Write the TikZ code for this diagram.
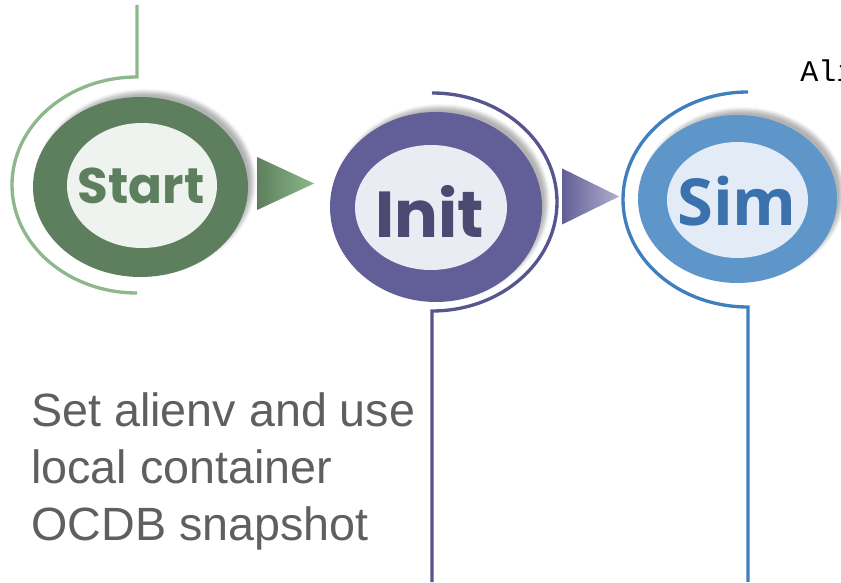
\documentclass[tikz,border=0pt]{standalone}
\usepackage{fontspec}
\setmainfont{Liberation Sans}
\newfontfamily\popfont{Poppins}
\newfontfamily\openfont{Open Sans}
\newfontfamily\codefont{Liberation Mono}
\usetikzlibrary{positioning, shapes.geometric, shadows.blur}

\definecolor{startring}{HTML}{5E7F5D}
\definecolor{startcore}{HTML}{EEF3EF}
\definecolor{starttrack}{HTML}{8DB88C}
\definecolor{initring}{HTML}{625F98}
\definecolor{initcore}{HTML}{EBEBF3}
\definecolor{inittext}{HTML}{4B4A72}
\definecolor{inittrack}{HTML}{57558D}
\definecolor{simring}{HTML}{5E96CA}
\definecolor{simcore}{HTML}{E3ECF6}
\definecolor{simtext}{HTML}{3B72AD}
\definecolor{simtrack}{HTML}{3F7FBF}
\definecolor{notegray}{HTML}{5F5F5F}

\newcommand{\pxu}{0.6pt}

\begin{document}
\begin{tikzpicture}[x=0.6pt, y=0.6pt,
    ring/.style={ellipse, inner sep=0pt,
        blur shadow={shadow xshift=3pt, shadow yshift=3pt, shadow blur steps=6, shadow opacity=30}},
    core/.style={ellipse, inner sep=0pt},
    pointer/.style={isosceles triangle, isosceles triangle stretches, inner sep=0pt,
        minimum height=57*\pxu, anchor=apex},
    track/.style={line width=2pt}
]
    \useasboundingbox (0,0) rectangle (841,582);
    \clip (0,0) rectangle (841,582);

    % Start
    \draw[track, starttrack] (137,577) -- (137,505)
        arc[start angle=90, end angle=270, x radius=125, y radius=108];
    \node[ring, fill=startring, minimum width=215*\pxu, minimum height=180*\pxu] (startring) at (140.5,395) {};
    \node[core, fill=startcore, minimum width=150*\pxu, minimum height=125*\pxu] (startcore) at (142,396.5) {};
    \node[font=\popfont\bfseries\fontsize{30}{30}\selectfont, text=startring] (start) at (141,396) {Start};

    \node[pointer, minimum width=53*\pxu, left color=startring, right color=starttrack] (startarrow) at (315,398.5) {};

    % Init
    \draw[track, inittrack] (432,489)
        arc[start angle=90, end angle=-90, x radius=125, y radius=109] -- (432,0);
    \node[ring, fill=initring, minimum width=212*\pxu, minimum height=190*\pxu] (initring) at (436,375) {};
    \node[core, fill=initcore, minimum width=152*\pxu, minimum height=125*\pxu] (initcore) at (431,374.5) {};
    \node[font=\popfont\bfseries\fontsize{39}{39}\selectfont, text=inittext] (init) at (430,371) {Init};

    \node[pointer, minimum width=56*\pxu, left color=initring, right color=initring!50] (initarrow) at (620,385.5) {};

    % Sim
    \draw[track, simtrack] (748,490)
        arc[start angle=90, end angle=270, x radius=125, y radius=107.5] -- (748,0);
    \node[ring, fill=simring, minimum width=199*\pxu, minimum height=168*\pxu] (simring) at (737.5,383) {};
    \node[core, fill=simcore, minimum width=141*\pxu, minimum height=116*\pxu] (simcore) at (737.5,382) {};
    \node[font=\openfont\bfseries\fontsize{39}{39}\selectfont, text=simtext] (sim) at (737,380.5) {Sim};

    % Notes
    \node[font=\fontsize{28}{34.2}\selectfont, text=notegray, align=left, anchor=base west, inner sep=0pt] (note) at (31,42)
        {Set alienv and use\\local container\\OCDB snapshot};
    \node[font=\codefont\fontsize{18}{20}\selectfont, anchor=base west, inner sep=0pt] (ali) at (800,500) {Ali};

\end{tikzpicture}
\end{document}
